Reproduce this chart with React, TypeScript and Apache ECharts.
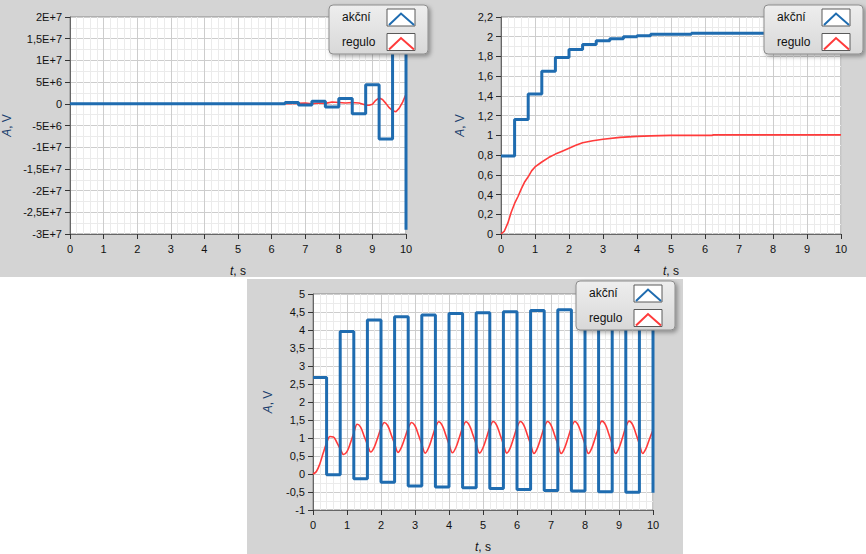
import React, { useEffect, useRef } from 'react';
import * as echarts from 'echarts';

// ---------- data ----------
const stepTimes = [0, 0.4, 0.8, 1.2, 1.6, 2, 2.4, 2.8, 3.2, 3.6, 4, 4.4, 4.8, 5.2, 5.6, 6, 6.4, 6.8, 7.2, 7.6, 8, 8.4, 8.8, 9.2, 9.6, 10];

const xTickValues = [0, 1, 2, 3, 4, 5, 6, 7, 8, 9, 10];
const xTickLabels = ['0', '1', '2', '3', '4', '5', '6', '7', '8', '9', '10'];

// Panel 1 (unstable)
const p1Akcni = [0, 0, 0, 0, 0, 0, 0, 0, 0, 0, 0, 0, 0, 0, 0, 0, 3e5, -3e5, 6e5, -7.5e5, 1.2e6, -2.3e6, 4.4e6, -8.1e6, 1.57e7, -2.9e7];
const p1RegTimes = [0, 6.4, 6.8, 7.0, 7.2, 7.4, 7.6, 7.8, 8.0, 8.2, 8.4, 8.6, 8.8, 8.9, 9.0, 9.1, 9.2, 9.3, 9.4, 9.5, 9.6, 9.7, 9.8, 9.9, 10];
const p1Regulo = [0, 0, 1e5, 1.5e5, 0, 2e5, 1e5, 4e5, 3e5, 2e5, 3e5, 2e5, -3e5, -3.5e5, -1e5, 8e5, 1.35e6, 1.0e6, 1e5, -9e5, -1.6e6, -1.85e6, -1.0e6, 4e5, 2.2e6];
const p1YValues = [-3e7, -2.5e7, -2e7, -1.5e7, -1e7, -5e6, 0, 5e6, 1e7, 1.5e7, 2e7];
const p1YLabels = ['-3E+7', '-2,5E+7', '-2E+7', '-1,5E+7', '-1E+7', '-5E+6', '0', '5E+6', '1E+7', '1,5E+7', '2E+7'];

// Panel 2 (stable)
const p2Akcni = [0.79, 1.16, 1.42, 1.65, 1.79, 1.87, 1.92, 1.96, 1.98, 2.0, 2.01, 2.025, 2.025, 2.025, 2.035, 2.035, 2.035, 2.035, 2.035, 2.035, 2.04, 2.04, 2.04, 2.04, 2.04, 2.04];
const p2RegTimes = [0, 0.1, 0.2, 0.3, 0.4, 0.5, 0.6, 0.7, 0.8, 0.9, 1.0, 1.2, 1.4, 1.6, 1.8, 2.0, 2.2, 2.4, 2.7, 3.0, 3.5, 4.0, 4.4, 5.0, 6.2, 6.25, 10];
const p2Regulo = [0, 0.03, 0.11, 0.22, 0.31, 0.38, 0.46, 0.53, 0.58, 0.64, 0.68, 0.73, 0.775, 0.81, 0.84, 0.87, 0.9, 0.925, 0.945, 0.96, 0.98, 0.99, 0.995, 1.0, 1.0, 1.005, 1.005];
const p2YValues = [0, 0.2, 0.4, 0.6, 0.8, 1, 1.2, 1.4, 1.6, 1.8, 2, 2.2];
const p2YLabels = ['0', '0,2', '0,4', '0,6', '0,8', '1', '1,2', '1,4', '1,6', '1,8', '2', '2,2'];

// Panel 3 (oscillating)
const p3Akcni = [2.68, -0.02, 3.96, -0.13, 4.28, -0.23, 4.37, -0.33, 4.42, -0.36, 4.46, -0.38, 4.48, -0.40, 4.51, -0.43, 4.54, -0.46, 4.56, -0.47, 4.57, -0.49, 4.58, -0.51, 4.59, -0.52];
const P3_DT = 0.1;
const p3Regulo = [
  0, 0.07, 0.28, 0.58, 0.86, 1.04, 1.03, 0.88, 0.70, 0.54,
  0.62, 0.86, 1.14, 1.38, 1.30, 1.06, 0.82, 0.61, 0.74, 1.0,
  1.27, 1.43, 1.34, 1.09, 0.84, 0.60, 0.74, 1.0, 1.27, 1.43,
  1.34, 1.09, 0.83, 0.58, 0.73, 1.0, 1.28, 1.45, 1.35, 1.10,
  0.83, 0.59, 0.73, 1.0, 1.28, 1.45, 1.35, 1.10, 0.83, 0.58,
  0.73, 1.0, 1.29, 1.46, 1.36, 1.10, 0.83, 0.58, 0.72, 1.0,
  1.29, 1.46, 1.36, 1.10, 0.83, 0.57, 0.72, 1.0, 1.29, 1.46,
  1.36, 1.10, 0.83, 0.57, 0.72, 1.0, 1.29, 1.46, 1.36, 1.10,
  0.83, 0.57, 0.72, 1.0, 1.30, 1.47, 1.37, 1.11, 0.83, 0.57,
  0.72, 1.0, 1.30, 1.47, 1.37, 1.11, 0.83, 0.57, 0.72, 0.98,
  1.22,
];
const p3YValues = [-1, -0.5, 0, 0.5, 1, 1.5, 2, 2.5, 3, 3.5, 4, 4.5, 5];
const p3YLabels = ['-1', '-0,5', '0', '0,5', '1', '1,5', '2', '2,5', '3', '3,5', '4', '4,5', '5'];

const legendNames = ['akční', 'regulo'];

// ---------- styling ----------
const BLUE = '#1f6cb0';
const RED = '#ff3b3b';
const FONT = '"Liberation Sans", Arial, sans-serif';

const pairs = (xs: number[], ys: number[]) => xs.map((x, i) => [x, ys[i]]);

const labelFor = (values: number[], labels: string[]) => (v: number) => {
  let best = 0;
  for (let i = 1; i < values.length; i++) {
    if (Math.abs(values[i] - v) < Math.abs(values[best] - v)) best = i;
  }
  return labels[best];
};

function makeXAxis(gridIndex: number) {
  return {
    type: 'value',
    gridIndex,
    min: 0,
    max: 10,
    interval: 1,
    name: '{i|t}, s',
    nameLocation: 'middle',
    nameGap: 31,
    nameTextStyle: { color: '#111', fontSize: 12, fontFamily: FONT, rich: { i: { fontStyle: 'italic', fontSize: 12, fontFamily: FONT, color: '#111' } } },
    axisLine: { show: true, onZero: false, lineStyle: { color: '#666', width: 1 } },
    axisTick: { show: true, length: 5, lineStyle: { color: '#333' } },
    axisLabel: { color: '#111', fontSize: 11, fontFamily: FONT, margin: 9, formatter: labelFor(xTickValues, xTickLabels) },
    splitLine: { show: true, lineStyle: { color: '#cdcdcd', width: 1 } },
    minorTick: { show: false, splitNumber: 5 },
    minorSplitLine: { show: true, lineStyle: { color: '#ebebeb', width: 1 } },
  };
}

function makeYAxis(gridIndex: number, min: number, max: number, interval: number, values: number[], labels: string[], nameGap: number) {
  return {
    type: 'value',
    gridIndex,
    min,
    max,
    interval,
    name: '{i|A}, V',
    nameLocation: 'middle',
    nameGap,
    nameTextStyle: { color: '#1b3f6e', fontSize: 12, fontFamily: FONT, rich: { i: { fontStyle: 'italic', fontSize: 12, fontFamily: FONT, color: '#1b3f6e' } } },
    axisLine: { show: true, onZero: false, lineStyle: { color: '#666', width: 1 } },
    axisTick: { show: true, length: 5, lineStyle: { color: '#333' } },
    axisLabel: { color: '#111', fontSize: 11, fontFamily: FONT, margin: 8, formatter: labelFor(values, labels) },
    splitLine: { show: true, lineStyle: { color: '#cdcdcd', width: 1 } },
    minorTick: { show: false, splitNumber: 2 },
    minorSplitLine: { show: true, lineStyle: { color: '#ebebeb', width: 1 } },
  };
}

function legendBox(x: number, y: number) {
  const Z = 100;
  const txt = (ty: number, text: string) => ({
    type: 'text', x: 13, y: ty, z: Z + 1,
    style: { text, fill: '#111', fontSize: 12, fontFamily: FONT, verticalAlign: 'middle', align: 'left' },
  });
  const icon = (ty: number, color: string) => [
    { type: 'rect', z: Z + 1, shape: { x: 58, y: ty, width: 28, height: 17 }, style: { fill: '#ffffff', stroke: '#5a5a5a', lineWidth: 1 } },
    { type: 'polyline', z: Z + 2, shape: { points: [[60, ty + 16], [72, ty + 4.5], [85, ty + 16]] }, style: { stroke: color, lineWidth: 2, fill: 'none' } },
  ];
  return {
    type: 'group', x, y, z: Z,
    children: [
      {
        type: 'rect', z: Z,
        shape: { x: 0, y: 0, width: 99, height: 49, r: 4 },
        style: {
          fill: new echarts.graphic.LinearGradient(0, 0, 0, 1, [
            { offset: 0, color: '#eeeeee' },
            { offset: 1, color: '#d8d8d8' },
          ]),
          stroke: '#8c8c8c', lineWidth: 1,
          shadowBlur: 4, shadowOffsetX: 2, shadowOffsetY: 2, shadowColor: 'rgba(0,0,0,0.35)',
        },
      },
      txt(12, legendNames[0]),
      txt(37, legendNames[1]),
      ...icon(4, BLUE),
      ...icon(28.5, RED),
    ],
  };
}

function panelRect(x: number, y: number, w: number, h: number) {
  return { type: 'rect', z: -10, silent: true, shape: { x, y, width: w, height: h }, style: { fill: '#d4d4d4' } };
}

export default function App() {
  const ref = useRef<HTMLDivElement>(null);
  useEffect(() => {
    if (!ref.current) return;
    const chart = echarts.init(ref.current, undefined, { renderer: 'svg' });
    const grids = [
      { left: 68, top: 17, width: 338, height: 217 },
      { left: 501, top: 17, width: 340, height: 217 },
      { left: 313, top: 294, width: 340, height: 217 },
    ].map((g) => ({ ...g, show: true, backgroundColor: '#ffffff', borderColor: '#8a8a8a', borderWidth: 1, z: 0 }));

    const blueSeries = (i: number, vals: number[]) => ({
      type: 'line', name: legendNames[0], xAxisIndex: i, yAxisIndex: i,
      data: pairs(stepTimes, vals), step: 'end', showSymbol: false, symbol: 'none',
      lineStyle: { color: BLUE, width: 3 }, itemStyle: { color: BLUE }, z: 4,
    });
    const redSeries = (i: number, xs: number[], vals: number[], smooth: number | boolean) => ({
      type: 'line', name: legendNames[1], xAxisIndex: i, yAxisIndex: i,
      data: pairs(xs, vals), showSymbol: false, symbol: 'none', smooth,
      lineStyle: { color: RED, width: 1.6 }, itemStyle: { color: RED }, z: 3,
    });

    const p3Times = p3Regulo.map((_, i) => Math.round(i * P3_DT * 10) / 10);

    chart.setOption({
      animation: false,
      backgroundColor: '#ffffff',
      grid: grids,
      xAxis: [makeXAxis(0), makeXAxis(1), makeXAxis(2)],
      yAxis: [
        makeYAxis(0, -3e7, 2e7, 5e6, p1YValues, p1YLabels, 57),
        makeYAxis(1, 0, 2.2, 0.2, p2YValues, p2YLabels, 35),
        makeYAxis(2, -1, 5, 0.5, p3YValues, p3YLabels, 39),
      ],
      series: [
        redSeries(0, p1RegTimes, p1Regulo, false),
        blueSeries(0, p1Akcni),
        redSeries(1, p2RegTimes, p2Regulo, false),
        blueSeries(1, p2Akcni),
        redSeries(2, p3Times, p3Regulo, 0.35),
        blueSeries(2, p3Akcni),
      ],
      graphic: {
        elements: [
          panelRect(0, 0, 430, 277),
          panelRect(430, 0, 436, 277),
          panelRect(247, 279, 436, 275),
          legendBox(329, 5),
          legendBox(764, 5),
          legendBox(576, 281),
        ],
      },
    });
    return () => chart.dispose();
  }, []);
  return <div ref={ref} style={{ position: 'absolute', left: 0, top: 0, width: 866, height: 554 }} />;
}
